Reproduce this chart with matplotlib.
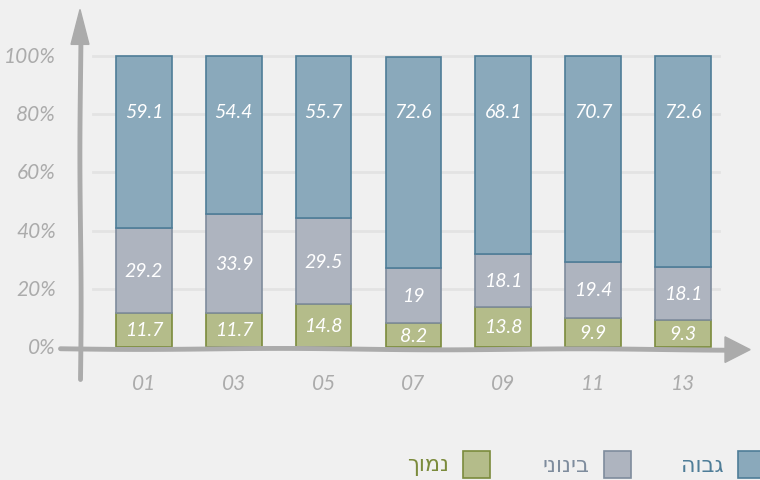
import numpy as np
import matplotlib.pyplot as plt
from matplotlib.patches import Rectangle, Polygon

# data
years = ['01', '03', '05', '07', '09', '11', '13']
low = [11.7, 11.7, 14.8, 8.2, 13.8, 9.9, 9.3]
mid = [29.2, 33.9, 29.5, 19, 18.1, 19.4, 18.1]
high = [59.1, 54.4, 55.7, 72.6, 68.1, 70.7, 72.6]
ytick_vals = [0, 20, 40, 60, 80, 100]
legend_names = ['גבוה', 'בינוני', 'נמוך']

bg = '#f0f0f0'
c_high, e_high = '#8aa9bb', '#4e7d98'
c_mid, e_mid = '#aeb4bf', '#7e8c9d'
c_low, e_low = '#b4bc8a', '#7b8b3c'
axis_grey = '#ababab'
hand = dict(family=['Lato', 'DejaVu Sans'], style='italic')

fig = plt.figure(figsize=(7.6, 4.81), dpi=100, facecolor=bg)
W, H = 760, 481
# axes placed in pixels: left 60, right 750, top 10, bottom 400
ax = fig.add_axes([60 / W, 1 - 400 / H, 690 / W, 390 / H])
ax.set_facecolor(bg)
px = 2.91          # pixels per percent
step = 89.8        # pixels between bars
ax.set_xlim((60 - 144) / step, (750 - 144) / step)
ax.set_ylim((348 - 400) / px, (348 - 10) / px)
for s in ax.spines.values():
    s.set_visible(False)
ax.set_xticks([])
ax.set_yticks([])

x = np.arange(len(years))
low = np.array(low)
mid = np.array(mid)
high = np.array(high)

# grid
for v in ytick_vals[1:]:
    ax.plot([-0.57, 6.4], [v, v], color='#e3e3e3', lw=2, zorder=0)

w = 0.62
ax.bar(x, low, w, color=c_low, edgecolor=e_low, lw=1.2, zorder=2)
ax.bar(x, mid, w, bottom=low, color=c_mid, edgecolor=e_mid, lw=1.2, zorder=2)
ax.bar(x, high, w, bottom=low + mid, color=c_high, edgecolor=e_high, lw=1.2, zorder=2)

for i in range(len(years)):
    ax.text(x[i], low[i] / 2, f'{low[i]:g}', ha='center', va='center',
            color='white', fontsize=14, zorder=3, **hand)
    ax.text(x[i], low[i] + mid[i] / 2, f'{mid[i]:g}', ha='center', va='center',
            color='white', fontsize=14, zorder=3, **hand)
    ax.text(x[i], 81, f'{high[i]:g}', ha='center', va='center',
            color='white', fontsize=14, zorder=3, **hand)
    ax.text(x[i], -12.5, years[i], ha='center', va='center',
            color='#ababab', fontsize=15, **hand)

for v in ytick_vals:
    ax.text(-0.98, v, f'{v}%', ha='right', va='center', color='#ababab',
            fontsize=15, clip_on=False, **hand)

# hand drawn axes
yx = (80 - 144) / step
ln, = ax.plot([yx, yx], [-11, 108], color=axis_grey, lw=3.5, clip_on=False,
              solid_capstyle='round', zorder=4)
ln.set_sketch_params(0.6, 300, 1)
ln2, = ax.plot([-0.93, 6.5], [-0.6, -0.9], color=axis_grey, lw=3.5, clip_on=False,
               solid_capstyle='round', zorder=4)
ln2.set_sketch_params(0.6, 300, 1)
ax.add_patch(Polygon([[yx - 0.1, 104], [yx + 0.1, 104], [yx, 116]],
                     closed=True, color=axis_grey, clip_on=False, zorder=4))
ax.add_patch(Polygon([[6.47, 3.5], [6.47, -5.3], [6.75, -0.9]],
                     closed=True, color=axis_grey, clip_on=False, zorder=4))

# legend (right to left)
leg = [(738, c_high, e_high, legend_names[0], 724),
       (604, c_mid, e_mid, legend_names[1], 590),
       (463, c_low, e_low, legend_names[2], 449)]
for x0, fc, ec, name, tx in leg:
    fig.patches.append(Rectangle((x0 / W, 1 - 479 / H), 27 / W, 27 / H,
                                 transform=fig.transFigure, facecolor=fc,
                                 edgecolor=ec, lw=1.2))
    fig.text(tx / W, 1 - 466 / H, name[::-1], ha='right', va='center',
             color=ec, fontsize=16, family='DejaVu Sans')

fig.savefig('out.png', dpi=100, facecolor=bg)
